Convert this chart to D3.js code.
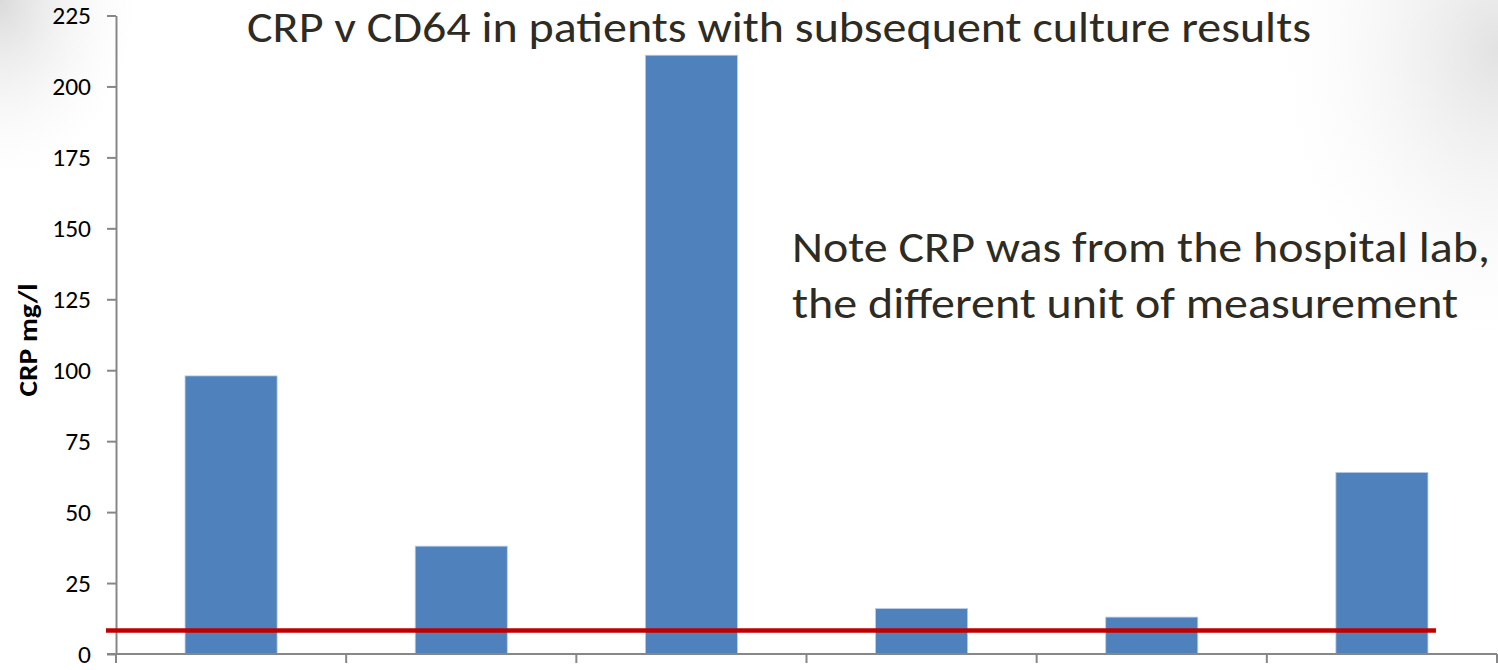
<!DOCTYPE html>
<html lang="en">
<head>
  <meta charset="UTF-8">
  <title>CRP v CD64</title>
  <script src="https://d3js.org/d3.v7.min.js"></script>
  <style>
    body { margin: 0; background: #fff; }
    svg { display: block; }
    .txt { font-family: Carlito, Calibri, Lato, sans-serif; fill: #2e2b23; }
    .axis text { font-family: Carlito, Calibri, Lato, sans-serif; font-size: 25.5px; fill: #000; }
    .axis path, .axis line { stroke: #878787; stroke-width: 2px; fill: none; }
  </style>
</head>
<body>
<div id="chart"></div>
<script>
  // patients (no category labels shown on the slide)
  var patients = ["P1", "P2", "P3", "P4", "P5", "P6"];
  // CRP mg/l
  var crp = [98, 38, 211, 16, 13, 64];
  var yTicks = [0, 25, 50, 75, 100, 125, 150, 175, 200, 225];
  var threshold = 8.3;

  var width = 1498, height = 670;
  var margin = { top: 15.5, right: 1, bottom: 16, left: 116 };

  var svg = d3.select("#chart").append("svg")
    .attr("width", width)
    .attr("height", height);

  // slide background vignette
  var defs = svg.append("defs");
  var g1 = defs.append("radialGradient").attr("id", "tl")
    .attr("cx", 0).attr("cy", 0).attr("r", 1);
  g1.append("stop").attr("offset", "0%").attr("stop-color", "#dadada").attr("stop-opacity", 1);
  g1.append("stop").attr("offset", "100%").attr("stop-color", "#ffffff").attr("stop-opacity", 0);
  var g2 = defs.append("radialGradient").attr("id", "tr")
    .attr("cx", 1).attr("cy", 0.15).attr("r", 1);
  g2.append("stop").attr("offset", "0%").attr("stop-color", "#e2e2e2").attr("stop-opacity", 1);
  g2.append("stop").attr("offset", "100%").attr("stop-color", "#ffffff").attr("stop-opacity", 0);

  svg.append("rect").attr("width", width).attr("height", height).attr("fill", "#fff");
  svg.append("rect").attr("x", 0).attr("y", 0).attr("width", 150).attr("height", 200).attr("fill", "url(#tl)");
  svg.append("rect").attr("x", 1250).attr("y", 0).attr("width", 248).attr("height", 330).attr("fill", "url(#tr)");

  var x = d3.scaleBand()
    .domain(patients)
    .range([margin.left, width - margin.right])
    .paddingInner(0.6)
    .paddingOuter(0.3);

  var y = d3.scaleLinear()
    .domain([0, 225])
    .range([height - margin.bottom, margin.top]);

  // bars
  svg.selectAll(".bar")
    .data(crp)
    .enter().append("rect")
    .attr("class", "bar")
    .attr("x", function (d, i) { return x(patients[i]); })
    .attr("width", x.bandwidth())
    .attr("y", function (d) { return y(d); })
    .attr("height", function (d) { return y(0) - y(d); })
    .attr("fill", "#4f81bd")
    .attr("stroke", "#b9cde5")
    .attr("stroke-width", 0.8);

  // y axis
  var yAxis = d3.axisLeft(y).tickValues(yTicks).tickSize(9).tickPadding(16).tickSizeOuter(0);
  svg.append("g")
    .attr("class", "axis")
    .attr("transform", "translate(" + margin.left + ",0)")
    .call(yAxis);

  // x axis: baseline plus ticks on category boundaries
  var xa = svg.append("g").attr("class", "axis");
  var x0 = x.range()[0], step = x.step();
  xa.append("line")
    .attr("x1", x0 - 9).attr("x2", x.range()[1])
    .attr("y1", y(0)).attr("y2", y(0));
  xa.selectAll(".xt")
    .data(d3.range(patients.length + 1))
    .enter().append("line")
    .attr("class", "xt")
    .attr("x1", function (i) { return x0 + i * step; })
    .attr("x2", function (i) { return x0 + i * step; })
    .attr("y1", y(0)).attr("y2", y(0) + 9);

  // threshold line
  var last = patients[patients.length - 1];
  svg.append("line")
    .attr("x1", x0 - 10)
    .attr("x2", x(last) + x.bandwidth() + 8)
    .attr("y1", y(threshold)).attr("y2", y(threshold))
    .attr("stroke", "#c00000")
    .attr("stroke-width", 4.5);

  // axis title
  svg.append("text")
    .attr("class", "txt")
    .attr("transform", "translate(37,340) rotate(-90)")
    .attr("text-anchor", "middle")
    .attr("textLength", 113)
    .attr("lengthAdjust", "spacingAndGlyphs")
    .style("font-size", "27px")
    .style("font-weight", "bold")
    .style("fill", "#000")
    .text("CRP mg/l");

  // slide title
  svg.append("text")
    .attr("class", "txt")
    .attr("x", 247).attr("y", 42)
    .attr("textLength", 1064)
    .attr("lengthAdjust", "spacingAndGlyphs")
    .style("font-size", "43px")
    .text("CRP v CD64 in patients with subsequent culture results");

  // note
  var note = ["Note CRP was from the hospital lab,", "the different unit of measurement"];
  var noteLen = [698, 666];
  svg.selectAll(".note")
    .data(note)
    .enter().append("text")
    .attr("class", "txt note")
    .attr("x", 792)
    .attr("y", function (d, i) { return 262 + i * 56; })
    .attr("textLength", function (d, i) { return noteLen[i]; })
    .attr("lengthAdjust", "spacingAndGlyphs")
    .style("font-size", "43px")
    .text(function (d) { return d; });
</script>
</body>
</html>
